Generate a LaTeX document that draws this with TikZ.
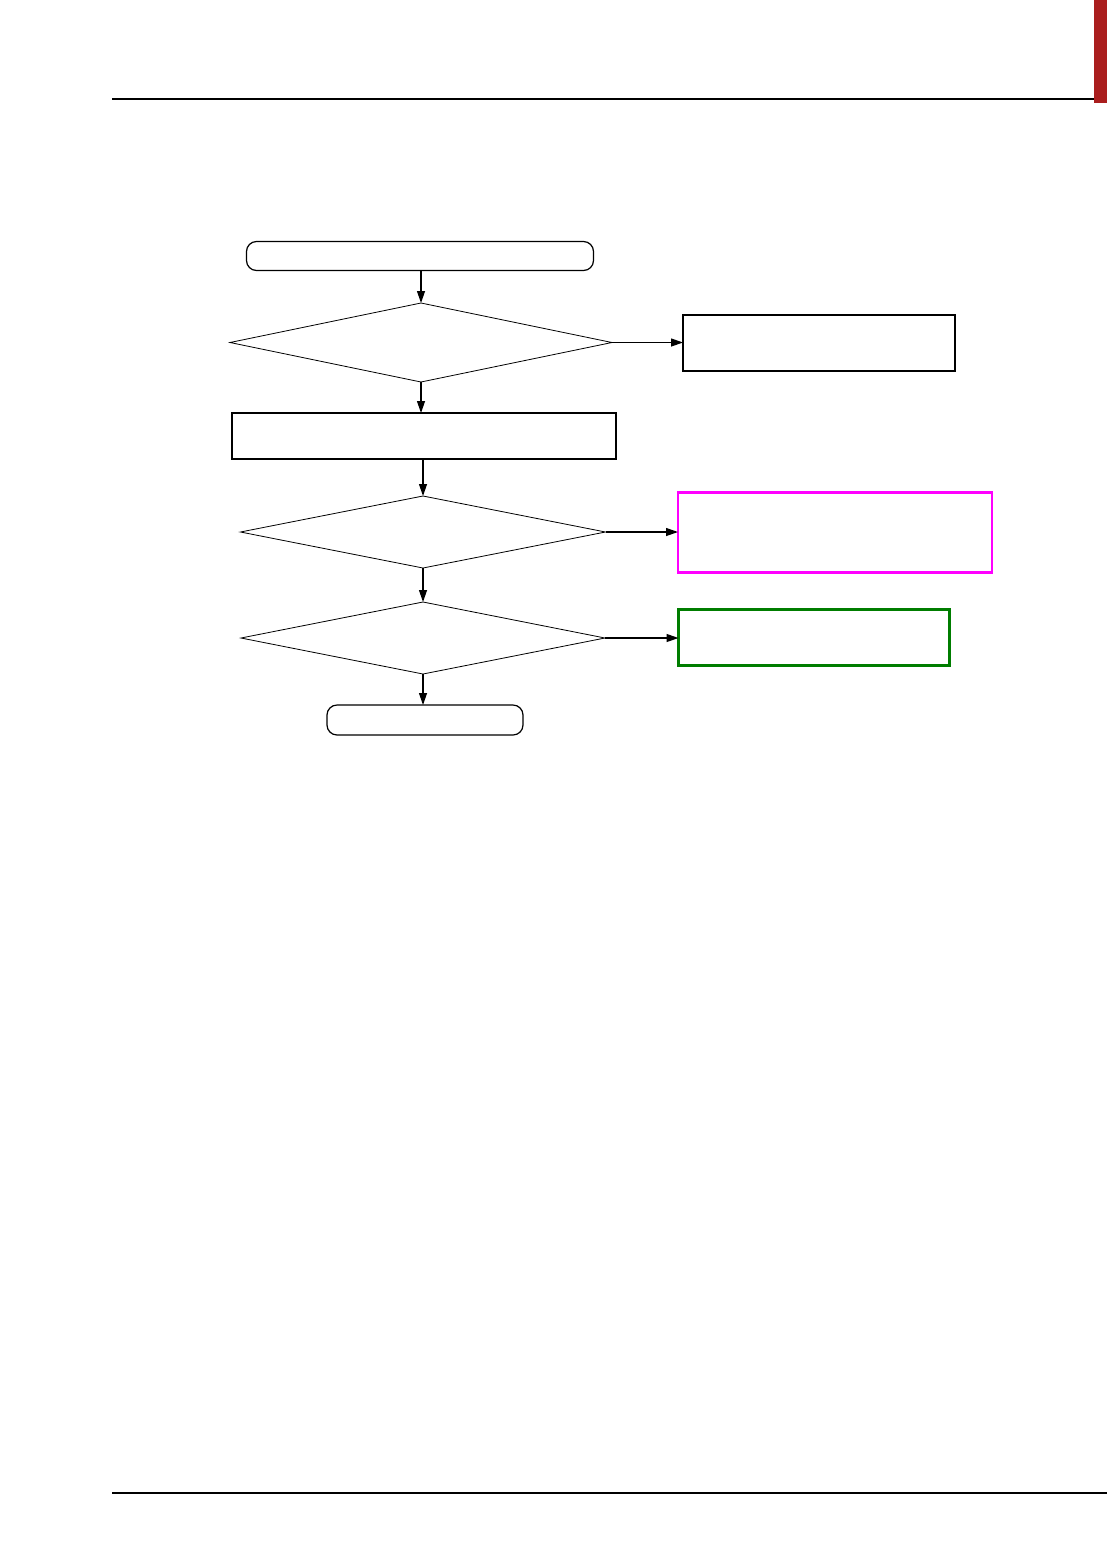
\documentclass[tikz,border=0pt]{standalone}
\usetikzlibrary{shapes.geometric,arrows.meta}
\definecolor{tabred}{RGB}{170,30,30}
\definecolor{boxmag}{RGB}{255,0,255}
\definecolor{boxgreen}{RGB}{0,125,0}
\begin{document}
\begin{tikzpicture}[x=0.5pt,y=-0.5pt,
  every node/.style={inner sep=0pt,outer sep=0pt},
  term/.style={draw,rounded corners=5pt,line width=0.6pt},
  procbox/.style={draw,rectangle,line width=0.7pt},
  decide/.style={draw,diamond,line width=0.4pt},
  flow/.style={line width=0.6pt,-{Triangle[length=6pt,width=4pt]}},
  rule/.style={line width=0.6pt}]
\useasboundingbox (0,0) rectangle (1107,1554);
% page frame rules
\coordinate (hl) at (112,99);
\coordinate (hr) at (1107,99);
\coordinate (fl) at (112,1493);
\coordinate (fr) at (1107,1493);
\draw[rule] (hl) -- (hr);
\draw[rule] (fl) -- (fr);
\fill[tabred] (1094,0) rectangle (1107,103);
% nodes
\node[term,minimum width=173.5pt,minimum height=14.5pt] (start) at (420,256) {};
\node[decide,minimum width=191pt,minimum height=39.5pt] (d1) at (421,342.5) {};
\node[procbox,minimum width=136pt,minimum height=28pt] (b1) at (819,343) {};
\node[procbox,minimum width=192pt,minimum height=23pt] (r2) at (424,436) {};
\node[decide,minimum width=182.5pt,minimum height=36pt] (d2) at (423,532) {};
\node[draw,rectangle,boxmag,line width=1.1pt,minimum width=157pt,minimum height=40pt] (bm) at (835,532.5) {};
\node[decide,minimum width=182pt,minimum height=36pt] (d3) at (423,638) {};
\node[draw,rectangle,boxgreen,line width=1.1pt,minimum width=135.5pt,minimum height=28pt] (bg) at (814,637.5) {};
\node[term,minimum width=98pt,minimum height=15pt] (stop) at (425,720) {};
% connectors
\draw[flow] (start.south -| d1.north) -- (d1.north);
\draw[flow] (d1.east) -- (d1.east -| b1.west);
\draw[flow] (d1.south) -- (d1.south |- r2.north);
\draw[flow] (r2.south -| d2.north) -- (d2.north);
\draw[flow] (d2.east) -- (d2.east -| bm.west);
\draw[flow] (d2.south) -- (d2.south |- d3.north);
\draw[flow] (d3.east) -- (d3.east -| bg.west);
\draw[flow] (d3.south) -- (d3.south |- stop.north);
\end{tikzpicture}
\end{document}
